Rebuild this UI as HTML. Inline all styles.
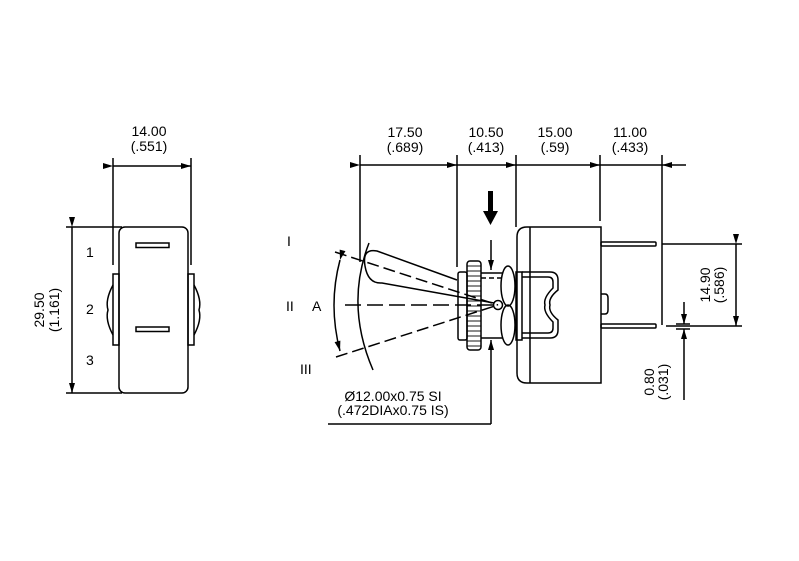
<!DOCTYPE html>
<html><head><meta charset="utf-8"><style>
html,body{margin:0;padding:0;background:#fff;}
svg{display:block}
text{font-family:"Liberation Sans",Arial,sans-serif;font-size:14px;fill:#000}
</style></head><body>
<svg width="799" height="561" viewBox="0 0 799 561" xmlns="http://www.w3.org/2000/svg">
<defs>
<marker id="ah" viewBox="0 0 10 6" refX="10" refY="3" markerWidth="14" markerHeight="6" markerUnits="userSpaceOnUse" orient="auto"><path d="M0,0 L10,3 L0,6 z" fill="#000"/></marker>
</defs>
<g stroke="#000" stroke-width="1.5" fill="none">
<line x1="113" y1="158" x2="113" y2="265"/>
<line x1="191" y1="158" x2="191" y2="265"/>
<line x1="113" y1="166" x2="191" y2="166" marker-start="url(#ah)" marker-end="url(#ah)"/>
<line x1="66" y1="227" x2="122" y2="227"/>
<line x1="66" y1="393" x2="122" y2="393"/>
<line x1="72" y1="227" x2="72" y2="393" marker-start="url(#ah)" marker-end="url(#ah)"/>
<rect x="119" y="227" width="69" height="166" rx="6"/>
<rect x="136" y="243" width="33" height="4.5"/>
<rect x="136" y="327" width="33" height="4.5"/>
<rect x="113" y="274" width="6" height="71"/>
<rect x="188" y="274" width="6" height="71"/>
<path d="M113,285 Q105,300 108,310 Q105,320 113,335"/>
<path d="M194,285 Q202,300 199,310 Q202,320 194,335"/>
<line x1="360" y1="155" x2="360" y2="262"/>
<line x1="457" y1="155" x2="457" y2="267"/>
<line x1="516" y1="155" x2="516" y2="227"/>
<line x1="600" y1="155" x2="600" y2="221"/>
<line x1="662" y1="155" x2="662" y2="325"/>
<line x1="360" y1="165" x2="457" y2="165" marker-start="url(#ah)" marker-end="url(#ah)"/>
<line x1="457" y1="165" x2="516" y2="165"/>
<line x1="516" y1="165" x2="600" y2="165" marker-start="url(#ah)" marker-end="url(#ah)"/>
<line x1="600" y1="165" x2="662" y2="165"/>
<line x1="686" y1="165" x2="662" y2="165" marker-end="url(#ah)"/>
<path d="M527,227 H601 V383 H527 Q517,383 517,373 V237 Q517,227 527,227 Z"/>
<line x1="530" y1="227" x2="530" y2="383"/>
<rect x="601" y="242" width="55" height="4" rx="1"/>
<rect x="601" y="324" width="55" height="4" rx="1"/>
<path d="M601,294 h4 q3,0 3,4 v12 q0,4 -3,4 h-4"/>
<line x1="662" y1="244" x2="742" y2="244"/>
<line x1="666" y1="326" x2="742" y2="326"/>
<line x1="736" y1="244" x2="736" y2="326" marker-start="url(#ah)" marker-end="url(#ah)"/>
<line x1="684" y1="302" x2="684" y2="324" marker-end="url(#ah)"/>
<line x1="684" y1="400" x2="684" y2="329" marker-end="url(#ah)"/>
<line x1="676" y1="324" x2="690" y2="324"/>
<line x1="676" y1="329" x2="690" y2="329"/>
<rect x="458" y="272" width="9" height="68" rx="2"/>
<rect x="467" y="261" width="14" height="89" rx="3"/>
<g stroke-width="0.9">
<line x1="467" y1="266" x2="481" y2="266"/><line x1="467" y1="271" x2="481" y2="271"/><line x1="467" y1="276" x2="481" y2="276"/><line x1="467" y1="281" x2="481" y2="281"/><line x1="467" y1="286" x2="481" y2="286"/><line x1="467" y1="291" x2="481" y2="291"/><line x1="467" y1="296" x2="481" y2="296"/><line x1="467" y1="301" x2="481" y2="301"/><line x1="467" y1="306" x2="481" y2="306"/><line x1="467" y1="311" x2="481" y2="311"/><line x1="467" y1="316" x2="481" y2="316"/><line x1="467" y1="321" x2="481" y2="321"/><line x1="467" y1="326" x2="481" y2="326"/><line x1="467" y1="331" x2="481" y2="331"/><line x1="467" y1="336" x2="481" y2="336"/><line x1="467" y1="341" x2="481" y2="341"/><line x1="467" y1="346" x2="481" y2="346"/>
</g>
<line x1="481" y1="273" x2="503" y2="273"/>
<line x1="481" y1="338" x2="503" y2="338"/>
<line x1="481" y1="278" x2="503" y2="278" stroke-dasharray="5,3"/>
<ellipse cx="508" cy="286" rx="7" ry="20"/>
<ellipse cx="508" cy="325" rx="7" ry="20"/>
<rect x="516" y="272" width="6" height="68"/>
<path d="M522,272 H550 Q558,272 558,280 V290 Q548,298 550,305 Q548,312 558,320 V330 Q558,338 550,338 H522"/>
<path d="M522,277 H548 Q553,277 553,282 V288 Q543,298 545,305 Q543,312 553,322 V328 Q553,333 548,333 H522"/>
<circle cx="498" cy="305" r="4.5"/>
<path d="M457,280 L377,251 Q362,248 365,266 Q368,284 382,283 L494,303"/>
<line x1="335" y1="252" x2="498" y2="305" stroke-dasharray="12,5"/>
<line x1="336" y1="357" x2="498" y2="305" stroke-dasharray="12,5"/>
<line x1="345" y1="305" x2="498" y2="305" stroke-dasharray="16,6"/>
<path d="M369,243 Q345,305 373,370"/>
<path d="M340,260 Q328,305 340,351" marker-start="url(#ah)" marker-end="url(#ah)"/>
<line x1="491" y1="240" x2="491" y2="270" marker-end="url(#ah)"/>
<line x1="491" y1="424" x2="491" y2="340" marker-end="url(#ah)"/>
<line x1="491" y1="424" x2="328" y2="424"/>
</g>
<rect x="488" y="191" width="5" height="22" fill="#000"/>
<path d="M483,211 L498,211 L490.5,225 Z" fill="#000"/>
<text x="149" y="136" text-anchor="middle">14.00</text>
<text x="149" y="151" text-anchor="middle">(.551)</text>
<text x="405" y="137" text-anchor="middle">17.50</text>
<text x="405" y="152" text-anchor="middle">(.689)</text>
<text x="486" y="137" text-anchor="middle">10.50</text>
<text x="486" y="152" text-anchor="middle">(.413)</text>
<text x="555" y="137" text-anchor="middle">15.00</text>
<text x="555" y="152" text-anchor="middle">(.59)</text>
<text x="630" y="137" text-anchor="middle">11.00</text>
<text x="630" y="152" text-anchor="middle">(.433)</text>
<text transform="translate(44,310) rotate(-90)" text-anchor="middle">29.50</text>
<text transform="translate(59,310) rotate(-90)" text-anchor="middle">(1.161)</text>
<text transform="translate(710,285) rotate(-90)" text-anchor="middle">14.90</text>
<text transform="translate(724,285) rotate(-90)" text-anchor="middle">(.586)</text>
<text transform="translate(654,382) rotate(-90)" text-anchor="middle">0.80</text>
<text transform="translate(668,382) rotate(-90)" text-anchor="middle">(.031)</text>
<text x="86" y="257">1</text>
<text x="86" y="314">2</text>
<text x="86" y="365">3</text>
<text x="287" y="246">I</text>
<text x="286" y="311">II</text>
<text x="312" y="311">A</text>
<text x="300" y="374">III</text>
<text x="393" y="401" text-anchor="middle">Ø12.00x0.75 SI</text>
<text x="393" y="415" text-anchor="middle">(.472DIAx0.75 IS)</text>
</svg>
</body></html>
